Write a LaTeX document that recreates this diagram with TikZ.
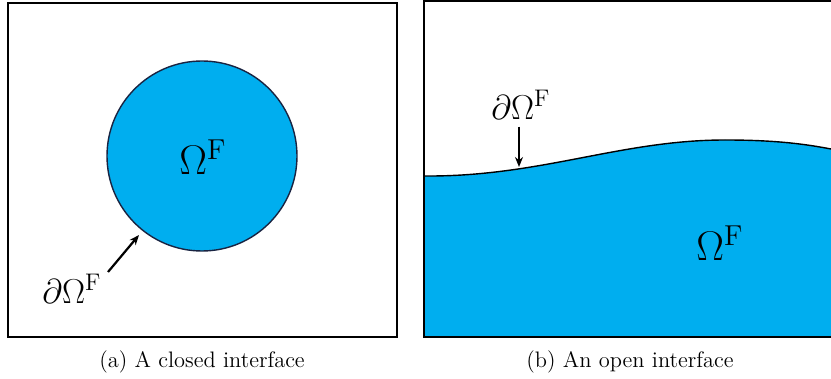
\documentclass[tikz,border=0pt]{standalone}
\usetikzlibrary{arrows.meta}
\definecolor{fluidblue}{RGB}{0,174,239}
\definecolor{rimnavy}{RGB}{25,35,65}
\tikzset{
  domainbox/.style={line width=1pt,black},
  interface/.style={line width=0.7pt},
  pointer/.style={-{Stealth[length=5pt,width=4pt]},black},
  biglabel/.style={font=\fontsize{20.7}{24}\selectfont},
  rimlabel/.style={font=\fontsize{17}{20}\selectfont},
  caption/.style={font=\fontsize{11.2}{13}\selectfont}
}
\begin{document}
\begin{tikzpicture}[x=0.5pt,y=-0.5pt]
	\useasboundingbox (0,0) rectangle (831,379);
	% (a) closed interface
	\draw[domainbox] (8,3) rectangle (397,337);
	\draw[interface,rimnavy,fill=fluidblue] (202,156) circle (95);
	\node[biglabel] (omegaA) at (203,157) {$\Omega^{\mathrm{F}}$};
	\node[rimlabel] (rimA) at (72,289) {$\partial\Omega^{\mathrm{F}}$};
	\coordinate (tailA) at (108,272);
	\coordinate (hitA) at (139,235);
	\draw[pointer,line width=1.1pt] (tailA) -- (hitA);
	\node[caption] (capA) at (202,362) {(a)\ A closed interface};
	% (b) open interface
	\fill[fluidblue] (424,337) -- (424,176)
		.. controls (540,177) and (620,140) .. (725,140)
		.. controls (775,140) and (805,144) .. (831,149) -- (831,337) -- cycle;
	\draw[interface] (424,176)
		.. controls (540,177) and (620,140) .. (725,140)
		.. controls (775,140) and (805,144) .. (831,149);
	\draw[domainbox] (831,1) -- (424,1) -- (424,337) -- (831,337);
	\node[biglabel] (omegaB) at (720,243) {$\Omega^{\mathrm{F}}$};
	\node[rimlabel] (rimB) at (521,105) {$\partial\Omega^{\mathrm{F}}$};
	\coordinate (hitB) at (519,167);
	\draw[pointer,line width=0.8pt] (rimB.south -| hitB) -- (hitB);
	\node[caption] (capB) at (630,362) {(b)\ An open interface};
\end{tikzpicture}
\end{document}
